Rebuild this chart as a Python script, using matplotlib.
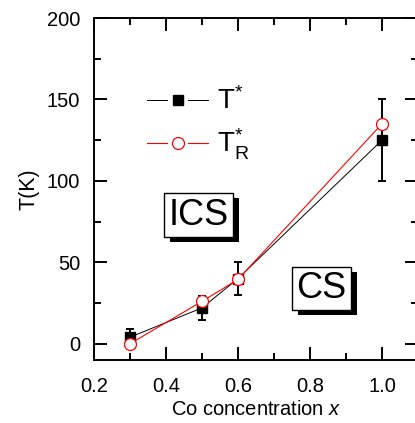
import numpy as np
import matplotlib as mpl
import matplotlib.pyplot as plt
import matplotlib.patheffects as pe
from matplotlib.lines import Line2D
from matplotlib.legend_handler import HandlerBase
from matplotlib.ticker import MultipleLocator

mpl.rc('font', family='Liberation Sans')
plt.rcParams.update({'font.size': 14,
                     'mathtext.fontset': 'custom',
                     'mathtext.rm': 'Liberation Sans',
                     'mathtext.it': 'Liberation Sans:italic'})

# Co concentration and characteristic temperatures
conc = [0.3, 0.5, 0.6, 1.0]
t_star = [4, 22, 40, 125]
t_star_err = [5, 7.5, 10, 25]
t_star_r = [0, 26, 39.5, 135]


class HandlerGapLine(HandlerBase):
    # line - marker - line, with a gap around the marker
    def create_artists(self, legend, orig_handle, xdescent, ydescent,
                       width, height, fontsize, trans):
        y = height / 2 - ydescent
        x0 = -xdescent
        gap = 0.34 * width
        kw = dict(color=orig_handle.get_color(), lw=orig_handle.get_linewidth())
        left = Line2D([x0, x0 + width / 2 - gap / 2], [y, y], **kw)
        right = Line2D([x0 + width / 2 + gap / 2, x0 + width], [y, y], **kw)
        mark = Line2D([x0 + width / 2], [y], ls='none',
                      marker=orig_handle.get_marker(),
                      ms=orig_handle.get_markersize(),
                      mfc=orig_handle.get_markerfacecolor(),
                      mec=orig_handle.get_markeredgecolor(),
                      mew=orig_handle.get_markeredgewidth())
        for a in (left, right, mark):
            a.set_transform(trans)
        return [left, right, mark]


fig = plt.figure(figsize=(4.15, 4.23), dpi=100)
ax = fig.add_axes([94/415, 63/423, 324/415, 342/423])

ax.errorbar(conc, t_star, yerr=t_star_err, fmt='none', ecolor='k',
            elinewidth=1.4, capsize=2.9, capthick=1.4, zorder=2)
l1, = ax.plot(conc, t_star, color='k', lw=0.7, marker='s', ms=7.6,
              mfc='k', mec='k', zorder=3)
l2, = ax.plot(conc, t_star_r, color='red', lw=0.8, marker='o', ms=8.6,
              mfc='white', mec='red', mew=0.9, zorder=4)

ax.set_xlim(0.2, 1.1)
ax.set_ylim(-10, 200)
ax.xaxis.set_major_locator(MultipleLocator(0.2))
ax.xaxis.set_minor_locator(MultipleLocator(0.1))
ax.yaxis.set_major_locator(MultipleLocator(50))
ax.yaxis.set_minor_locator(MultipleLocator(25))
ax.xaxis.set_major_formatter(mpl.ticker.FormatStrFormatter('%.1f'))

for s in ax.spines.values():
    s.set_linewidth(1.4)
ax.tick_params(which='both', direction='in', top=True, right=True,
               width=1.4, labelsize=14.5)
ax.tick_params(which='major', length=9.5)
ax.tick_params(which='minor', length=5)
ax.tick_params(axis='y', which='major', pad=10)
ax.tick_params(axis='x', which='major', pad=12)

ax.set_xlabel('Co concentration $x$', fontsize=14.5, labelpad=3)
ax.set_ylabel('T(K)', fontsize=15.5, labelpad=5)

leg = ax.legend([l1, l2], [r'$\mathrm{T}^{*}$', r'$\mathrm{T}^{*}_{\mathrm{R}}$'],
                handler_map={Line2D: HandlerGapLine()},
                loc='upper left', bbox_to_anchor=(0.164, 0.797),
                frameon=False, fontsize=20, handlelength=2.2,
                handletextpad=0.3, labelspacing=0.42, borderpad=0,
                borderaxespad=0)

for label, xy in [('ICS', (0.49, 79)), ('CS', (0.832, 34))]:
    t = ax.text(xy[0], xy[1], label, fontsize=26, ha='center', va='center',
                bbox=dict(boxstyle='square,pad=0.12', fc='white', ec='black',
                          lw=1.0))
    t.get_bbox_patch().set_path_effects([
        pe.SimplePatchShadow(offset=(4.3, -3.6), shadow_rgbFace='black',
                             alpha=1.0),
        pe.Normal()])

fig.savefig('out.png', dpi=100)
